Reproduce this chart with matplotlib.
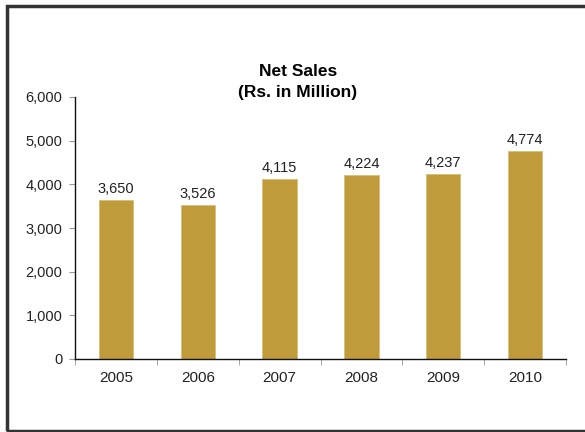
import matplotlib.pyplot as plt
from matplotlib.patches import Rectangle

years = ['2005', '2006', '2007', '2008', '2009', '2010']
net_sales = [3650, 3526, 4115, 4224, 4237, 4774]
y_ticks = [0, 1000, 2000, 3000, 4000, 5000, 6000]

plt.rcParams['font.family'] = ['Liberation Sans', 'DejaVu Sans']

W, H = 585, 432
fig = plt.figure(figsize=(W / 100, H / 100), dpi=100)
ax = fig.add_axes([75 / W, 1 - 359 / H, (566 - 75) / W, (359 - 97) / H])

x = range(len(years))
ax.bar(x, net_sales, width=0.42, color='#BF9B3B', edgecolor='#D8BE78', linewidth=0.6)
for i, v in zip(x, net_sales):
    ax.text(i, v + 90, f'{v:,}', ha='center', va='bottom', fontsize=10.5, color='#222222')

ax.set_xlim(-0.5, len(years) - 0.5)
ax.set_ylim(0, 6000)
ax.set_yticks(y_ticks)
ax.set_yticklabels([f'{t:,}' for t in y_ticks])
ax.set_xticks(x)
ax.set_xticklabels(years)
ax.set_xticks([i - 0.5 for i in range(len(years) + 1)], minor=True)
ax.tick_params(axis='x', which='major', length=0, pad=9, labelsize=11, labelcolor='#222222')
ax.tick_params(axis='x', which='minor', length=4, color='#999999', direction='out')
ax.tick_params(axis='y', length=4, color='#999999', pad=5, labelsize=10.5, labelcolor='#222222')
for side in ('top', 'right'):
    ax.spines[side].set_visible(False)
for side in ('left', 'bottom'):
    ax.spines[side].set_color('#111111')
    ax.spines[side].set_linewidth(1.0)

fig.text(298 / W, 1 - 71 / H, 'Net Sales', ha='center', va='center', fontsize=12.5, fontweight='bold')
fig.text(298 / W, 1 - 92 / H, '(Rs. in Million)', ha='center', va='center', fontsize=12.5, fontweight='bold')

# outer border
fig.patches.append(Rectangle((6.5 / W, 1.5 / H), 2, (H - 7.5) / H, transform=fig.transFigure,
                             fill=False, edgecolor='#333333', linewidth=2.5))

fig.savefig('out.png', dpi=100, facecolor='white')
